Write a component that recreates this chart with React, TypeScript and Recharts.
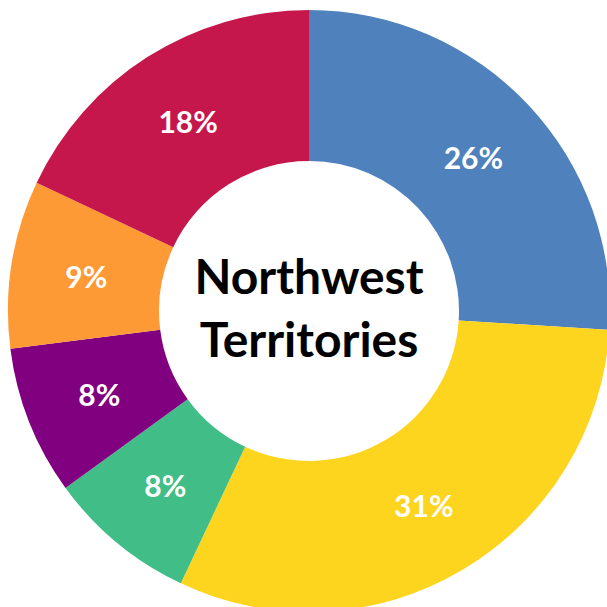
import { Cell, Pie, PieChart } from "recharts";

// share of total, clockwise from 12 o'clock
const categories = ["A", "B", "C", "D", "E", "F"];
const shares = [26, 31, 8, 8, 9, 18];
const colors = ["#4F81BD", "#FDD41E", "#41BD87", "#800080", "#FD9A35", "#C5174B"];
const centerLines = ["Northwest", "Territories"];

const data = categories.map((name, i) => ({ name, value: shares[i] }));

const FONT = "Lato, 'Open Sans', sans-serif";
const RAD = Math.PI / 180;
const CX = 309;
const CY = 311;

function SliceLabel({ cx, cy, midAngle, innerRadius, outerRadius, value }: any) {
  const r = (innerRadius + outerRadius) / 2;
  const x = cx + r * Math.cos(-midAngle * RAD);
  const y = cy + r * Math.sin(-midAngle * RAD);
  return (
    <text
      x={x}
      y={y}
      fill="#fff"
      textAnchor="middle"
      dominantBaseline="central"
      fontFamily={FONT}
      fontWeight={700}
      fontSize={30}
    >
      {value}%
    </text>
  );
}

export default function App() {
  return (
    <div style={{ position: "absolute", left: 0, top: 0, width: 607, height: 607, overflow: "hidden", background: "#fff" }}>
      <PieChart width={620} height={620} margin={{ top: 0, right: 0, bottom: 0, left: 0 }}>
        <Pie
          data={data}
          dataKey="value"
          nameKey="name"
          cx={CX}
          cy={CY}
          innerRadius={150}
          outerRadius={301}
          startAngle={90}
          endAngle={-270}
          stroke="none"
          labelLine={false}
          label={SliceLabel}
          isAnimationActive={false}
        >
          {data.map((d, i) => (
            <Cell key={d.name} fill={colors[i]} />
          ))}
        </Pie>
        <text textAnchor="middle" fontFamily={FONT} fontWeight={700} fontSize={48} fill="#000">
          <tspan x={CX} y={CY - 36} dominantBaseline="central">
            {centerLines[0]}
          </tspan>
          <tspan x={CX} y={CY + 27} dominantBaseline="central">
            {centerLines[1]}
          </tspan>
        </text>
      </PieChart>
    </div>
  );
}
